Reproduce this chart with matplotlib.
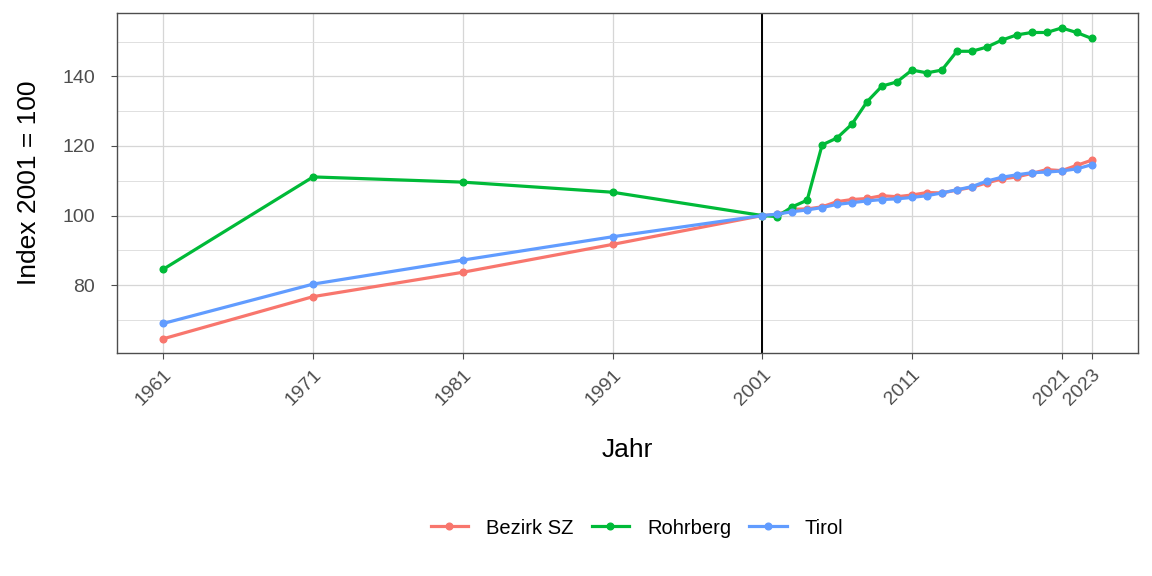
import matplotlib.pyplot as plt

plt.rcParams['font.family'] = ['Liberation Sans', 'DejaVu Sans']

# Jahre: Volkszaehlungen 1961-1991, danach jaehrlich 2001-2023
years = [1961, 1971, 1981, 1991] + list(range(2001, 2024))

bezirk_sz = [64.6, 76.7, 83.7, 91.7,
             100.0, 100.3, 101.8, 101.9, 102.5, 104.0, 104.6, 104.9, 105.7, 105.4,
             105.9, 106.6, 106.5, 107.3, 108.1, 109.4, 110.5, 111.1, 112.1, 113.2,
             112.9, 114.4, 115.9]
rohrberg = [84.6, 111.1, 109.6, 106.7,
            100.0, 99.7, 102.5, 104.4, 120.3, 122.3, 126.3, 132.7, 137.2, 138.4,
            141.8, 141.0, 141.8, 147.2, 147.2, 148.4, 150.4, 151.9, 152.6, 152.6,
            153.9, 152.6, 150.9]
tirol = [69.0, 80.3, 87.2, 93.9,
         100.0, 100.4, 101.1, 101.6, 102.3, 103.2, 103.7, 104.2, 104.6, 104.8,
         105.2, 105.7, 106.5, 107.4, 108.3, 109.9, 111.0, 111.7, 112.3, 112.5,
         112.8, 113.4, 114.6]

x_ticks = [1961, 1971, 1981, 1991, 2001, 2011, 2021, 2023]

fig = plt.figure(figsize=(11.52, 5.76), dpi=100)
ax = fig.add_axes([117 / 1152, 1 - 353 / 576, (1138 - 117) / 1152, (353 - 13) / 576])

ax.set_xlim(1957.9, 2026.1)
ax.set_ylim(60.5, 158.2)

# Grid like theme_light
ax.set_xticks(x_ticks)
ax.set_yticks([80, 100, 120, 140])
ax.set_yticks([70, 90, 110, 130, 150], minor=True)
ax.grid(True, which='major', color='#d6d6d6', linewidth=0.9)
ax.grid(True, which='minor', axis='y', color='#e0e0e0', linewidth=0.7)
ax.set_axisbelow(True)

ax.axvline(2001, color='black', linewidth=1.4, zorder=2)

series = [('Bezirk SZ', bezirk_sz, '#F8766D'),
          ('Rohrberg', rohrberg, '#00BA38'),
          ('Tirol', tirol, '#619CFF')]
for name, vals, col in series:
    ax.plot(years, vals, color=col, linewidth=2.3, marker='o', markersize=4.8,
            label=name, zorder=3)

for sp in ax.spines.values():
    sp.set_color('#4d4d4d')
    sp.set_linewidth(1.0)

ax.tick_params(axis='both', colors='#4d4d4d', labelsize=14, length=4.5)
ax.tick_params(axis='y', pad=11.5)
ax.tick_params(axis='y', which='minor', length=0)
ax.tick_params(axis='x', labelrotation=45, pad=5)
for lbl in ax.get_xticklabels():
    lbl.set_ha('right')
    lbl.set_rotation_mode('anchor')
    lbl.set_color('#4d4d4d')

ax.set_xlabel('Jahr', fontsize=19, va='center')
ax.xaxis.set_label_coords(0.5, (353 - 450) / 340)
ax.set_ylabel('Index 2001 = 100', fontsize=19, va='center')
ax.yaxis.set_label_coords((29 - 117) / 1021, 0.5)

fig.legend(loc='center', bbox_to_anchor=(637 / 1152, 1 - 528 / 576), ncol=3,
           frameon=False, fontsize=14.5, handlelength=1.85, handletextpad=0.9,
           columnspacing=0.9)

plt.savefig('out.png', dpi=100)
